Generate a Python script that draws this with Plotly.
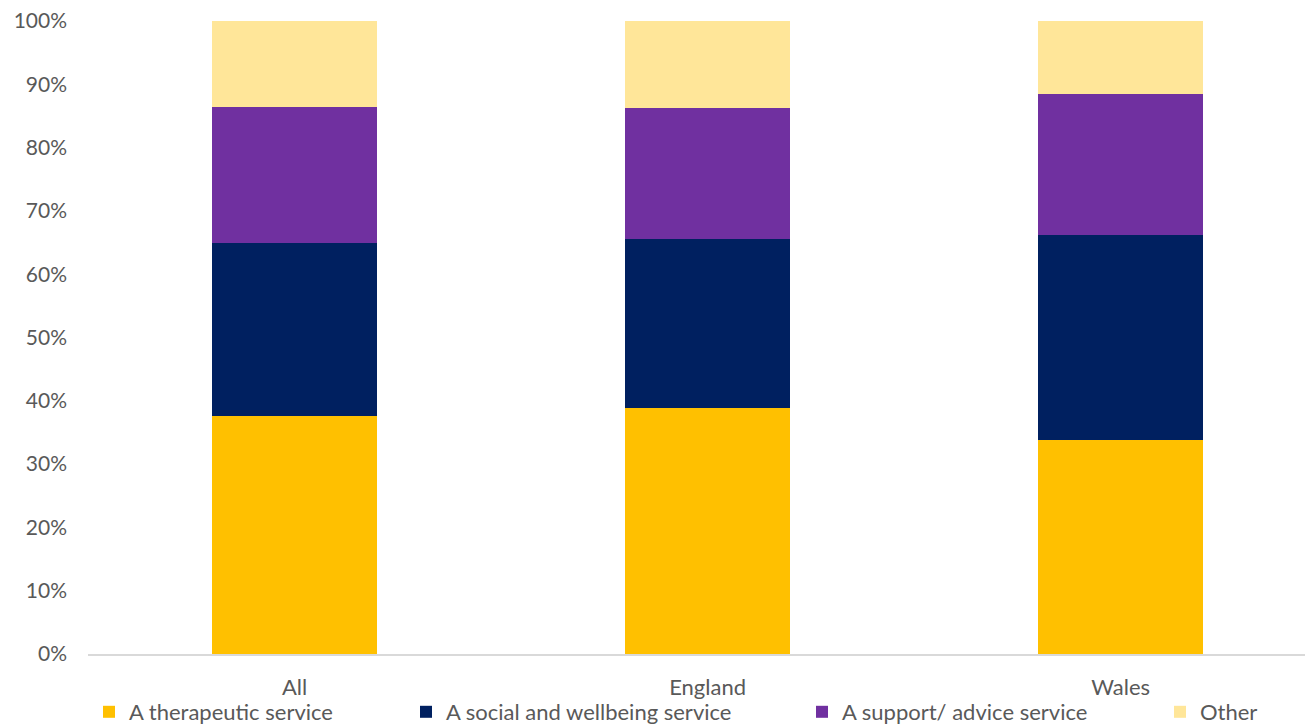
import plotly.graph_objects as go

categories = ["All", "England", "Wales"]
series_names = ["A therapeutic service", "A social and wellbeing service",
                "A support/ advice service", "Other"]
therapeutic = [0.376, 0.389, 0.338]
social = [0.273, 0.267, 0.324]
support = [0.215, 0.207, 0.223]
other = [0.136, 0.137, 0.115]
colors = ["#FFC000", "#002060", "#7030A0", "#FFE699"]
legend_x_px = [107, 424, 820, 1178]

W, H = 1313, 724
font_family = "Lato, 'Open Sans', sans-serif"
text_color = "#595959"

fig = go.Figure()
values = [therapeutic, social, support, other]
legend_ids = ["legend", "legend2", "legend3", "legend4"]
for name, vals, col, lid in zip(series_names, values, colors, legend_ids):
    fig.add_trace(go.Bar(
        x=categories, y=vals, name=name, width=0.4,
        marker=dict(color=col, line=dict(width=0)),
        legend=lid, showlegend=True,
    ))

layout_legends = {}
for lid, px in zip(legend_ids, legend_x_px):
    layout_legends[lid] = dict(
        xref="container", yref="container",
        x=(px - 26) / W, y=1 - 704 / H,
        xanchor="left", yanchor="middle",
        orientation="h",
        font=dict(family=font_family, size=22, color=text_color),
        bgcolor="rgba(0,0,0,0)", borderwidth=0,
        itemclick=False, itemdoubleclick=False,
        visible=True,
    )

fig.update_layout(
    width=W, height=H,
    barmode="stack",
    showlegend=True,
    plot_bgcolor="white", paper_bgcolor="white",
    margin=dict(l=80, r=0, t=13, b=78, autoexpand=False),
    font=dict(family=font_family, size=21, color=text_color),
    **layout_legends,
)
fig.update_xaxes(
    range=[-0.5, 2.485],
    showline=True, linecolor="#D9D9D9", linewidth=1.5,
    showgrid=False, ticks="", ticklabelstandoff=13,
    tickfont=dict(family=font_family, size=22, color=text_color),
)
fig.update_yaxes(
    range=[0, 1], dtick=0.1, tickformat=".0%",
    showgrid=False, zeroline=False, showline=False,
    ticks="", ticklabelstandoff=20, ticklabeloverflow="allow",
    tickfont=dict(family=font_family, size=21, color=text_color),
)

fig.write_html("out.html")
